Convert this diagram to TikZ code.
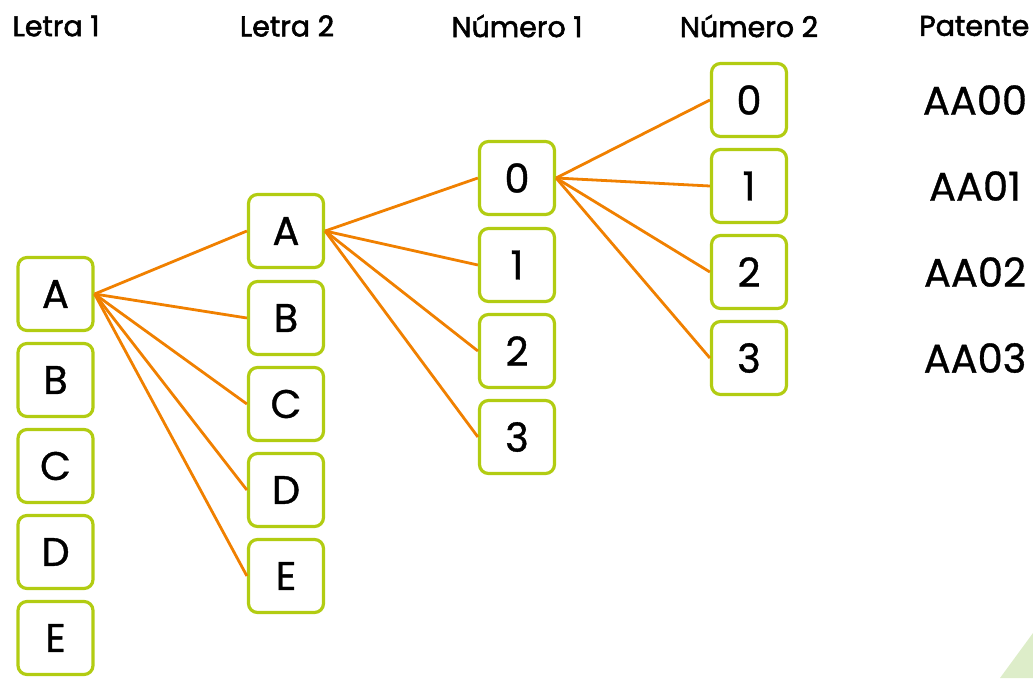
\documentclass[tikz,border=0pt]{standalone}
\usepackage{fontspec}
\setmainfont{Poppins}[AutoFakeBold=0.9]
\newfontfamily\headfont{Poppins}[AutoFakeBold=2]
\definecolor{boxgreen}{HTML}{B2CC12}
\definecolor{lineorange}{HTML}{F08000}
\definecolor{trigreen}{HTML}{DDEDC9}
\begin{document}
\begin{tikzpicture}[x=1pt,y=-1pt,
  cell/.style={draw=boxgreen,line width=3.2pt,rounded corners=9pt,minimum width=75pt,minimum height=73pt,inner sep=0pt,font=\bfseries\fontsize{40}{40}\selectfont},
  head/.style={font=\headfont\bfseries\fontsize{28.5}{28.5}\selectfont,inner sep=0pt},
  plate/.style={font=\bfseries\fontsize{40}{40}\selectfont,inner sep=0pt},
  link/.style={draw=lineorange,line width=2.8pt}]
\useasboundingbox (0,0) rectangle (1033,678);
\fill[trigreen] (1033,633) -- (1033,678) -- (1000,678) -- cycle;
% headers
\node[head] (h1) at (56,26) {Letra 1};
\node[head] (h2) at (287,26) {Letra 2};
\node[head] (h3) at (517,26) {Número 1};
\node[head] (h4) at (749,26) {Número 2};
\node[head,anchor=west] (h5) at (919,26) {Patente};
% column 1
\foreach \t/\y [count=\i] in {A/294,B/380,C/466,D/552,E/638}
  \node[cell] (a\i) at (55.5,\y) {\t};
% column 2
\foreach \t/\y [count=\i] in {A/231,B/318,C/404,D/490,E/576}
  \node[cell] (b\i) at (286,\y) {\t};
% column 3
\foreach \t/\y [count=\i] in {0/178,1/265,2/351,3/437}
  \node[cell] (c\i) at (517,\y) {\t};
% column 4
\foreach \t/\y [count=\i] in {0/100,1/186,2/272,3/358}
  \node[cell] (d\i) at (749,\y) {\t};
% plates
\node[plate] (p1) at (975,100) {AA00};
\node[plate] (p2) at (975,186) {AA01};
\node[plate] (p3) at (975,272) {AA02};
\node[plate] (p4) at (975,358) {AA03};
% links
\foreach \i in {1,...,5} \draw[link] (a1.east) -- (b\i.west);
\foreach \i in {1,...,4} \draw[link] (b1.east) -- (c\i.west);
\foreach \i in {1,...,4} \draw[link] (c1.east) -- (d\i.west);
\end{tikzpicture}
\end{document}
